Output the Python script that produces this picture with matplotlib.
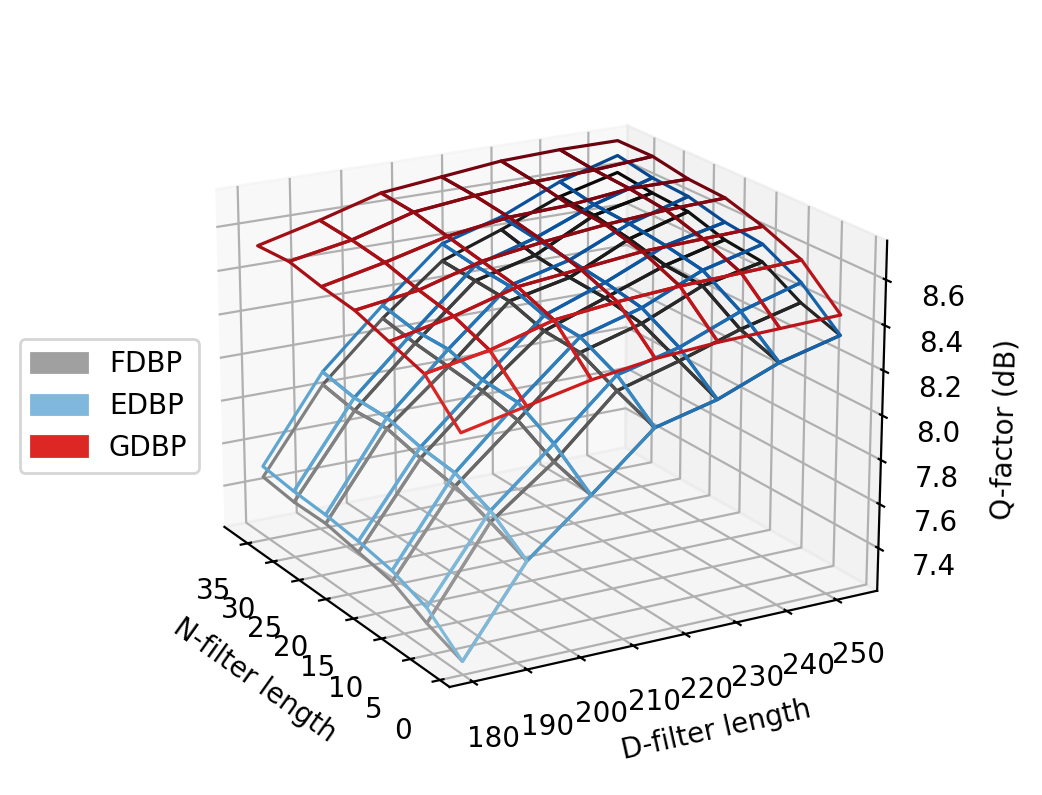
import numpy as np
import matplotlib
matplotlib.use("Agg")
import matplotlib.pyplot as plt
from matplotlib.patches import Patch

d_len = [181, 193, 205, 217, 229, 241, 253]
n_len = [1, 7, 13, 19, 25, 31, 37]

# rows: N-filter length, columns: D-filter length
fdbp = [[7.24, 7.62, 7.85, 8.09, 8.16, 8.27, 8.34],
        [7.30, 7.69, 7.90, 8.16, 8.24, 8.33, 8.40],
        [7.38, 7.75, 7.99, 8.24, 8.32, 8.44, 8.50],
        [7.41, 7.78, 8.03, 8.25, 8.35, 8.45, 8.52],
        [7.44, 7.82, 8.05, 8.30, 8.36, 8.49, 8.57],
        [7.44, 7.81, 8.07, 8.31, 8.38, 8.52, 8.58],
        [7.46, 7.84, 8.10, 8.32, 8.42, 8.53, 8.60]]
edbp = [[7.24, 7.62, 7.85, 8.09, 8.16, 8.27, 8.34],
        [7.37, 7.74, 7.98, 8.23, 8.30, 8.41, 8.49],
        [7.43, 7.81, 8.07, 8.31, 8.39, 8.51, 8.58],
        [7.46, 7.83, 8.08, 8.32, 8.42, 8.54, 8.60],
        [7.48, 7.87, 8.13, 8.37, 8.44, 8.56, 8.64],
        [7.49, 7.87, 8.13, 8.38, 8.46, 8.57, 8.65],
        [7.51, 7.90, 8.16, 8.40, 8.48, 8.60, 8.68]]
gdbp = [[8.23, 8.29, 8.35, 8.39, 8.41, 8.42, 8.43],
        [8.39, 8.44, 8.52, 8.55, 8.57, 8.58, 8.59],
        [8.44, 8.50, 8.58, 8.61, 8.64, 8.65, 8.66],
        [8.49, 8.53, 8.61, 8.65, 8.68, 8.70, 8.71],
        [8.51, 8.57, 8.64, 8.68, 8.69, 8.72, 8.72],
        [8.54, 8.59, 8.67, 8.70, 8.72, 8.73, 8.75],
        [8.53, 8.60, 8.68, 8.71, 8.74, 8.75, 8.75]]

W, H = 1042, 795
fig = plt.figure(figsize=(W / 200, H / 200), dpi=200)
side = 753
cx, cy = 534, 399
ax = fig.add_axes([(cx - side / 2) / W, 1 - (cy + side / 2) / H, side / W, side / H],
                  projection="3d")
ax.patch.set_alpha(0)

X, Y = np.meshgrid(n_len, d_len, indexing="ij")


def wire(z, cmap, lo, hi):
    z = np.array(z)
    cm = plt.get_cmap(cmap)
    cols = cm(lo + (hi - lo) * (z - z.min()) / (z.max() - z.min()))
    surf = ax.plot_surface(X, Y, z, rstride=1, cstride=1, facecolors=cols,
                           shade=False, linewidth=1.15)
    surf.set_facecolor((0, 0, 0, 0))
    return surf


wire(fdbp, "Greys", 0.5, 1.0)
wire(edbp, "Blues", 0.45, 0.95)
wire(gdbp, "Reds", 0.7, 1.0)

ax.view_init(elev=19, azim=-30)
ax.invert_xaxis()
ax.set_zlim(7.2045, 8.7705)
ax.set_xticks([0, 5, 10, 15, 20, 25, 30, 35])
ax.set_yticks([180, 190, 200, 210, 220, 230, 240, 250])
ax.set_zticks([7.4, 7.6, 7.8, 8.0, 8.2, 8.4, 8.6])
ax.set_xlabel("N-filter length")
ax.set_ylabel("D-filter length")
ax.set_zlabel("Q-factor (dB)")

handles = [Patch(color="#a0a0a0", label="FDBP"),
           Patch(color="#7fb8dc", label="EDBP"),
           Patch(color="#dc2725", label="GDBP")]
fig.legend(handles=handles, loc="center left", bbox_to_anchor=(6 / W, 1 - 406 / H))

fig.savefig("out.png", dpi=200)
